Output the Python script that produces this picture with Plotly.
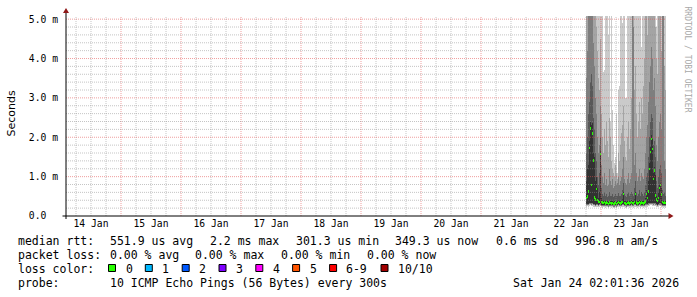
import plotly.graph_objects as go
import pandas as pd
import numpy as np

# ---------------------------------------------------------------- data (ms)
SAMPLE_START = "2026-01-22 18:12:00"   # first consolidated column
SAMPLE_STEP = "24min"                  # one rrd column per step

median_ms = [0.45, 0.50, 0.62, 1.72, 2.22, 0.78, 2.10, 1.41, 0.47, 0.42,
             0.69, 0.40, 0.37, 0.36, 1.58, 0.36, 0.34, 0.33, 0.35, 0.32,
             0.34, 0.33, 0.31, 0.34, 0.33, 0.32, 0.33, 0.31, 0.32, 0.34,
             0.31, 0.33, 0.35, 0.33, 0.32, 0.34, 0.36, 0.56, 0.33, 0.32,
             0.31, 0.33, 0.34, 0.32, 0.33, 0.35, 0.33, 0.32, 0.36, 0.56,
             0.34, 0.32, 0.33, 0.35, 0.32, 0.34, 0.33, 0.32, 0.34, 0.37,
             0.56, 0.45, 0.62, 1.19, 1.62, 1.95, 1.70, 0.94, 1.16, 0.52,
             0.42, 0.38, 0.46, 0.71, 0.78, 0.55, 0.35, 0.33, 0.34, 0.33]

ping_min = [0.24, 0.25, 0.23, 0.26, 0.27, 0.25, 0.26, 0.24, 0.23, 0.22,
            0.24, 0.23, 0.22, 0.23, 0.25, 0.22, 0.21, 0.22, 0.23, 0.21,
            0.22, 0.22, 0.21, 0.23, 0.22, 0.21, 0.22, 0.20, 0.21, 0.22,
            0.21, 0.22, 0.23, 0.22, 0.21, 0.22, 0.23, 0.24, 0.22, 0.21,
            0.21, 0.22, 0.23, 0.21, 0.22, 0.23, 0.22, 0.21, 0.23, 0.24,
            0.22, 0.21, 0.22, 0.23, 0.21, 0.22, 0.22, 0.21, 0.22, 0.23,
            0.24, 0.24, 0.25, 0.26, 0.27, 0.27, 0.26, 0.25, 0.26, 0.25,
            0.23, 0.22, 0.24, 0.25, 0.25, 0.24, 0.22, 0.21, 0.22, 0.21]

ping_low = [0.27, 0.28, 0.27, 0.30, 0.31, 0.29, 0.30, 0.28, 0.27, 0.26,
            0.28, 0.27, 0.26, 0.27, 0.29, 0.26, 0.25, 0.25, 0.26, 0.25,
            0.26, 0.25, 0.24, 0.26, 0.25, 0.25, 0.25, 0.24, 0.24, 0.26,
            0.24, 0.25, 0.27, 0.25, 0.25, 0.26, 0.27, 0.28, 0.25, 0.25,
            0.24, 0.25, 0.26, 0.25, 0.25, 0.27, 0.25, 0.25, 0.27, 0.28,
            0.26, 0.25, 0.25, 0.27, 0.25, 0.26, 0.25, 0.25, 0.26, 0.27,
            0.28, 0.28, 0.29, 0.30, 0.31, 0.31, 0.30, 0.29, 0.30, 0.29,
            0.27, 0.26, 0.28, 0.29, 0.29, 0.28, 0.26, 0.25, 0.26, 0.25]

ping_mid_low = [0.30, 0.31, 0.30, 0.33, 0.34, 0.32, 0.33, 0.31, 0.30, 0.29,
                0.31, 0.30, 0.29, 0.30, 0.32, 0.29, 0.28, 0.28, 0.29, 0.27,
                0.28, 0.28, 0.27, 0.29, 0.28, 0.27, 0.28, 0.27, 0.27, 0.28,
                0.27, 0.28, 0.30, 0.28, 0.27, 0.29, 0.30, 0.31, 0.28, 0.27,
                0.27, 0.28, 0.29, 0.27, 0.28, 0.30, 0.28, 0.27, 0.30, 0.31,
                0.29, 0.27, 0.28, 0.30, 0.27, 0.29, 0.28, 0.27, 0.29, 0.30,
                0.31, 0.31, 0.32, 0.33, 0.34, 0.34, 0.33, 0.32, 0.33, 0.32,
                0.30, 0.29, 0.31, 0.32, 0.32, 0.31, 0.29, 0.28, 0.29, 0.28]

ping_6 = [0.90, 1.20, 1.30, 1.90, 2.40, 2.30, 2.35, 1.60, 1.50, 0.90,
          1.00, 0.70, 0.45, 0.60, 1.65, 0.45, 0.40, 0.38, 0.40, 0.37,
          0.39, 0.38, 0.36, 0.39, 0.38, 0.37, 0.38, 0.36, 0.37, 0.39,
          0.36, 0.38, 0.40, 0.38, 0.37, 0.39, 0.42, 0.62, 0.38, 0.37,
          0.36, 0.38, 0.39, 0.37, 0.38, 0.40, 0.38, 0.37, 0.42, 0.62,
          0.39, 0.37, 0.38, 0.40, 0.37, 0.39, 0.38, 0.37, 0.39, 0.45,
          0.65, 0.60, 0.90, 1.35, 1.75, 2.05, 1.95, 1.10, 1.25, 1.05,
          0.50, 0.45, 0.60, 0.80, 0.85, 0.70, 0.40, 0.38, 0.39, 0.38]

ping_7 = [1.60, 2.00, 2.60, 2.90, 3.40, 3.60, 3.30, 2.50, 2.20, 1.60,
          1.40, 1.00, 0.80, 1.10, 2.00, 0.70, 0.55, 0.50, 0.60, 0.50,
          0.55, 0.48, 0.50, 0.60, 0.52, 0.50, 0.55, 0.48, 0.50, 0.55,
          0.50, 0.52, 0.58, 0.50, 0.52, 0.55, 0.65, 0.85, 0.55, 0.50,
          0.48, 0.55, 0.60, 0.50, 0.55, 0.62, 0.55, 0.50, 0.70, 0.90,
          0.60, 0.50, 0.55, 0.65, 0.52, 0.60, 0.55, 0.52, 0.62, 0.80,
          1.00, 1.10, 1.50, 2.00, 2.40, 2.60, 2.50, 1.80, 1.90, 1.50,
          0.90, 0.70, 1.00, 1.20, 1.30, 1.10, 0.65, 0.55, 0.60, 0.50]

ping_8 = [3.50, 4.20, 5.50, 5.50, 5.50, 5.50, 5.50, 4.40, 3.80, 3.00,
          2.60, 2.00, 1.60, 1.80, 2.80, 1.30, 1.00, 0.85, 1.10, 0.80,
          0.95, 0.75, 0.80, 1.20, 0.90, 0.80, 0.95, 0.70, 0.75, 0.90,
          0.80, 0.85, 1.00, 0.80, 0.90, 1.00, 1.20, 1.50, 0.95, 0.85,
          0.80, 0.95, 1.10, 0.85, 0.95, 1.10, 5.50, 4.80, 1.30, 1.60,
          1.10, 0.90, 1.00, 1.20, 0.90, 1.10, 1.00, 0.95, 1.20, 1.60,
          2.00, 2.30, 2.90, 3.40, 3.80, 4.30, 4.00, 3.20, 3.50, 2.80,
          1.80, 1.40, 2.00, 2.40, 2.60, 2.20, 5.50, 5.50, 1.40, 1.20]

ping_9 = [5.50, 5.50, 5.50, 5.50, 5.50, 5.50, 5.50, 5.50, 5.50, 5.50,
          4.80, 4.20, 3.50, 3.20, 4.50, 2.60, 2.00, 1.60, 2.20, 1.80,
          2.40, 1.90, 1.50, 2.50, 2.00, 1.40, 1.20, 1.10, 1.00, 1.30,
          1.10, 0.95, 1.60, 1.40, 1.80, 2.10, 2.30, 2.80, 1.90, 1.50,
          1.40, 2.00, 2.40, 1.70, 2.20, 3.00, 5.50, 5.50, 3.20, 3.80,
          2.60, 2.00, 2.40, 2.90, 2.20, 3.00, 2.60, 3.30, 4.00, 5.50,
          5.50, 4.60, 5.50, 5.50, 5.50, 5.50, 5.50, 5.50, 5.50, 4.80,
          4.00, 3.60, 5.50, 5.50, 5.50, 4.20, 5.50, 5.50, 3.80, 3.20]

ping_max = [5.50, 5.50, 5.50, 5.50, 5.50, 5.50, 5.50, 5.50, 5.50, 5.50,
            5.50, 5.50, 5.50, 5.50, 5.50, 5.50, 5.50, 3.65, 3.70, 5.50,
            5.50, 5.50, 4.60, 5.50, 2.40, 5.50, 2.70, 1.80, 1.35, 1.50,
            2.60, 1.10, 3.20, 3.30, 5.50, 5.50, 4.90, 5.50, 5.50, 3.00,
            3.00, 5.50, 5.50, 5.50, 5.50, 5.50, 5.50, 5.50, 5.50, 5.50,
            5.50, 5.50, 5.50, 5.50, 5.50, 4.30, 5.50, 5.50, 5.50, 5.50,
            5.50, 5.50, 5.50, 5.50, 5.50, 5.50, 5.50, 5.50, 5.50, 5.50,
            4.80, 5.50, 5.50, 5.50, 5.50, 5.50, 5.50, 5.50, 5.50, 5.50]

day_labels = ["14 Jan", "15 Jan", "16 Jan", "17 Jan", "18 Jan",
              "19 Jan", "20 Jan", "21 Jan", "22 Jan", "23 Jan"]
day_label_times = ["2026-01-14 12:00", "2026-01-15 12:00", "2026-01-16 12:00",
                   "2026-01-17 12:00", "2026-01-18 12:00", "2026-01-19 12:00",
                   "2026-01-20 12:00", "2026-01-21 12:00", "2026-01-22 12:00",
                   "2026-01-23 12:00"]
y_tick_vals = [0, 1, 2, 3, 4, 5]
y_tick_text = ["0.0\u00a0\u00a0", "1.0 m", "2.0 m", "3.0 m", "4.0 m", "5.0 m"]

loss_labels = ["0", "1", "2", "3", "4", "5", "6-9", "10/10"]
loss_colors = ["#26ff00", "#00b8ff", "#0059ff", "#7e00ff",
               "#ff00ff", "#ff5500", "#ff0000", "#a10000"]

stats_rtt = ["551.9 us avg", "2.2 ms max", "301.3 us min", "349.3 us now",
             "0.6 ms sd", "996.8 m am/s"]
stats_loss = ["0.00 % avg", "0.00 % max", "0.00 % min", "0.00 % now"]
probe_text = "10 ICMP Echo Pings (56 Bytes) every 300s"
stamp_text = "Sat Jan 24 02:01:36 2026"

# ---------------------------------------------------------------- geometry
W, H = 697, 297
ML, MR, MT, MB = 66, 31, 16, 81
PW, PH = W - ML - MR, H - MT - MB
X_START, X_END = "2026-01-14 02:00:00", "2026-01-24 02:00:00"
Y_MAX = 5.08

def px(x):
    return (x - ML) / PW

def py(y):
    return (H - MB - y) / PH

MONO = "DejaVu Sans Mono"
SANS = "DejaVu Sans"

times = pd.date_range(SAMPLE_START, periods=len(median_ms), freq=SAMPLE_STEP)
col_ms = pd.Timedelta(SAMPLE_STEP).total_seconds() * 1000

fig = go.Figure()

bands = [
    (ping_min, ping_max, "#cacaca"),
    (ping_low, ping_9, "#a4a4a4"),
    (ping_low, ping_8, "#7e7e7e"),
    (ping_mid_low, ping_7, "#585858"),
    (ping_mid_low, ping_6, "#323232"),
]
for lo, hi, col in bands:
    fig.add_trace(go.Bar(
        x=times, base=lo, y=[h - l for h, l in zip(hi, lo)],
        width=col_ms, marker=dict(color=col, line=dict(width=0)),
        hoverinfo="skip"))

MED_H = 0.06
fig.add_trace(go.Bar(
    x=times, base=[m - MED_H / 2 for m in median_ms], y=[MED_H] * len(median_ms),
    width=col_ms, marker=dict(color=loss_colors[0], line=dict(width=0)),
    hoverinfo="skip"))

shapes = []
GRID = "rgba(140,140,140,0.5)"
MGRID = "rgba(225,80,80,0.55)"
DOT = "1px,1px"

# vertical grid
for t in pd.date_range("2026-01-14 06:00", "2026-01-24 00:00", freq="6h"):
    major = t.hour == 0
    shapes.append(dict(type="line", xref="x", yref="paper", x0=t, x1=t, y0=0, y1=1,
                       line=dict(color=MGRID if major else GRID, width=1, dash=DOT),
                       layer="above"))
# horizontal grid
for v in np.arange(0.2, 5.01, 0.2):
    v = round(float(v), 1)
    major = abs(v - round(v)) < 1e-6
    shapes.append(dict(type="line", xref="paper", yref="y", x0=0, x1=1, y0=v, y1=v,
                       line=dict(color=MGRID if major else GRID, width=1, dash=DOT),
                       layer="above"))

AXIS = "#000000"
ARROW = "#8f1818"
# axis lines
shapes.append(dict(type="line", xref="paper", yref="paper", x0=px(62.5), x1=px(669),
                   y0=0, y1=0, line=dict(color=AXIS, width=1), layer="above"))
shapes.append(dict(type="line", xref="paper", yref="paper", x0=0, x1=0,
                   y0=py(219), y1=py(12), line=dict(color=AXIS, width=1), layer="above"))
# arrows
shapes.append(dict(type="path", xref="paper", yref="paper",
                   path=f"M {px(668.5)},{py(213)} L {px(673.5)},{py(216)} L {px(668.5)},{py(219)} Z",
                   fillcolor=ARROW, line=dict(width=0), layer="above"))
shapes.append(dict(type="path", xref="paper", yref="paper",
                   path=f"M {px(63)},{py(13)} L {px(66)},{py(8)} L {px(69)},{py(13)} Z",
                   fillcolor=ARROW, line=dict(width=0), layer="above"))

annotations = []

def text(x, y, s, anchor="left", size=11.5, family=MONO, color="#000000", angle=0):
    annotations.append(dict(xref="paper", yref="paper", x=px(x), y=py(y), text=s,
                            showarrow=False, xanchor=anchor, yanchor="middle",
                            textangle=angle, font=dict(family=family, size=size, color=color)))

ROW = [241, 255, 268.5, 282.5]
text(16, ROW[0], "median rtt:")
for xpos, s in zip([107.5, 207.5, 293.5, 393.5, 493.5, 573], stats_rtt):
    text(xpos, ROW[0], s)
text(16, ROW[1], "packet loss:")
for xpos, s in zip([107.5, 193, 279, 365], stats_loss):
    text(xpos, ROW[1], s)
text(16, ROW[2], "loss color:")
square_x = [108.5, 145.3, 182.2, 219.0, 255.8, 292.6, 329.6, 381.0]
label_x = [123.5, 160.0, 197.3, 234.0, 271.0, 308.0, 344.4, 395.6]
for sx, lx, lab, col in zip(square_x, label_x, loss_labels, loss_colors):
    shapes.append(dict(type="rect", xref="paper", yref="paper",
                       x0=px(sx), x1=px(sx + 7), y0=py(264.5), y1=py(271.5),
                       fillcolor=col, line=dict(color="#000000", width=1)))
    text(lx, ROW[2], lab)
text(16, ROW[3], "probe:")
text(107.5, ROW[3], probe_text)
text(680.5, ROW[3], stamp_text, anchor="right")

# axis title and watermark
text(11, 113.5, "Seconds", anchor="center", size=11, family=SANS, angle=-90)
text(686.5, 59, "RRDTOOL / TOBI OETIKER", anchor="center", size=8, color="#a8a8a8", angle=90)

fig.update_layout(
    width=W, height=H,
    margin=dict(l=ML, r=MR, t=MT, b=MB, pad=0),
    paper_bgcolor="#ffffff", plot_bgcolor="#ffffff",
    barmode="overlay", bargap=0, showlegend=False,
    shapes=shapes, annotations=annotations,
    xaxis=dict(type="date", range=[X_START, X_END], showgrid=False, zeroline=False,
               showline=False, ticks="", tickvals=day_label_times, ticktext=day_labels,
               tickfont=dict(family=MONO, size=9.7, color="#000000"), fixedrange=True),
    yaxis=dict(range=[0, Y_MAX], showgrid=False, zeroline=False, showline=False,
               ticks="", tickvals=y_tick_vals, ticktext=y_tick_text,
               ticklabelstandoff=7,
               tickfont=dict(family=MONO, size=9.7, color="#000000"), fixedrange=True),
)

fig.write_html("out.html")
